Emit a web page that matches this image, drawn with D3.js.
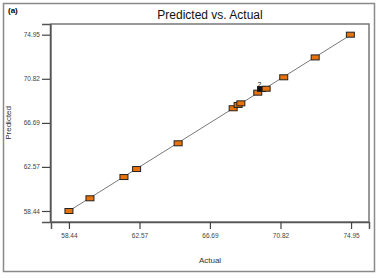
<!DOCTYPE html>
<html>
<head>
<meta charset="utf-8">
<script src="https://cdn.jsdelivr.net/npm/d3@7"></script>
<style>
body { margin: 0; background: #fff; }
text { font-family: "Liberation Sans", Arial, sans-serif; }
</style>
</head>
<body>
<svg id="chart" width="378" height="278"></svg>
<script>
// actual vs predicted values
var actual    = [58.44, 59.67, 61.66, 62.40, 64.83, 68.05, 68.34, 68.50, 69.49, 69.71, 69.98, 71.01, 72.85, 74.91];
var predicted = [58.44, 59.63, 61.62, 62.37, 64.78, 68.06, 68.37, 68.52, 69.52, 69.86, 69.89, 70.96, 72.82, 74.95];
var counts    = [1, 1, 1, 1, 1, 1, 1, 1, 1, 2, 1, 1, 1, 1]; // black marker = 2 overlapping runs
var tickVals  = [58.44, 62.57, 66.69, 70.82, 74.95];

var svg = d3.select("#chart");
var margin = {left: 51, right: 9, top: 24, bottom: 56};
var width = 378, height = 278;

var x = d3.scaleLinear().domain([57.39, 76.0]).range([margin.left, width - margin.right]);
var y = d3.scaleLinear().domain([57.41, 75.95]).range([height - margin.bottom, margin.top]);

// outer frame
svg.append("rect")
    .attr("x", 3.5).attr("y", 3.5).attr("width", 371).attr("height", 268)
    .attr("fill", "none").attr("stroke", "#8a8a8a").attr("stroke-width", 1.5);

// plot box
svg.append("rect")
    .attr("x", margin.left).attr("y", margin.top)
    .attr("width", width - margin.left - margin.right)
    .attr("height", height - margin.top - margin.bottom)
    .attr("fill", "none").attr("stroke", "#777").attr("stroke-width", 1.5);

var xAxis = svg.append("g")
    .attr("transform", "translate(0," + (height - margin.bottom) + ")")
    .call(d3.axisBottom(x).tickValues(tickVals).tickFormat(d3.format(".2f")).tickSize(7).tickPadding(4));
var yAxis = svg.append("g")
    .attr("transform", "translate(" + (margin.left - 1) + ",0)")
    .call(d3.axisLeft(y).tickValues(tickVals).tickFormat(d3.format(".2f")).tickSize(8).tickPadding(2));

[xAxis, yAxis].forEach(function(g) {
    g.select(".domain").attr("stroke", "#555").attr("stroke-width", 1.5);
    g.selectAll(".tick line").attr("stroke", "#444").attr("stroke-width", 1.2);
    g.selectAll(".tick text").attr("fill", "#444").style("font-size", "6.5px")
        .style("font-family", "Liberation Sans, Arial, sans-serif");
});

// diagonal reference line
var lo = d3.min(actual), hi = d3.max(actual);
svg.append("line")
    .attr("x1", x(lo)).attr("y1", y(lo))
    .attr("x2", x(74.95)).attr("y2", y(74.95))
    .attr("stroke", "#555").attr("stroke-width", 0.8);

var pts = actual.map(function(a, i) { return {a: a, p: predicted[i], n: counts[i]}; });

svg.append("g").selectAll("rect")
    .data(pts)
    .enter().append("rect")
    .attr("x", function(d) { return x(d.a) - 4; })
    .attr("y", function(d) { return y(d.p) - 2.5; })
    .attr("width", 8).attr("height", 5)
    .attr("fill", function(d) { return d.n > 1 ? "#111" : "#e8730c"; })
    .attr("stroke", "#222").attr("stroke-width", 1);

svg.append("g").selectAll("text")
    .data(pts.filter(function(d) { return d.n > 1; }))
    .enter().append("text")
    .attr("x", function(d) { return x(d.a) - 4; })
    .attr("y", function(d) { return y(d.p) - 2; })
    .attr("font-size", "7px").attr("fill", "#222")
    .text(function(d) { return d.n; });

// titles
svg.append("text")
    .attr("x", 8).attr("y", 13)
    .attr("font-size", "8px").attr("font-weight", "bold")
    .text("(a)");
svg.append("text")
    .attr("x", 210).attr("y", 19).attr("text-anchor", "middle")
    .attr("font-size", "12px").attr("fill", "#111")
    .text("Predicted vs. Actual");
svg.append("text")
    .attr("x", 210).attr("y", 263).attr("text-anchor", "middle")
    .attr("font-size", "8px").attr("fill", "#333")
    .text("Actual");
svg.append("text")
    .attr("transform", "translate(11," + y(66.69) + ") rotate(-90)")
    .attr("text-anchor", "middle")
    .attr("font-size", "8px").attr("fill", "#333")
    .text("Predicted");
</script>
</body>
</html>
